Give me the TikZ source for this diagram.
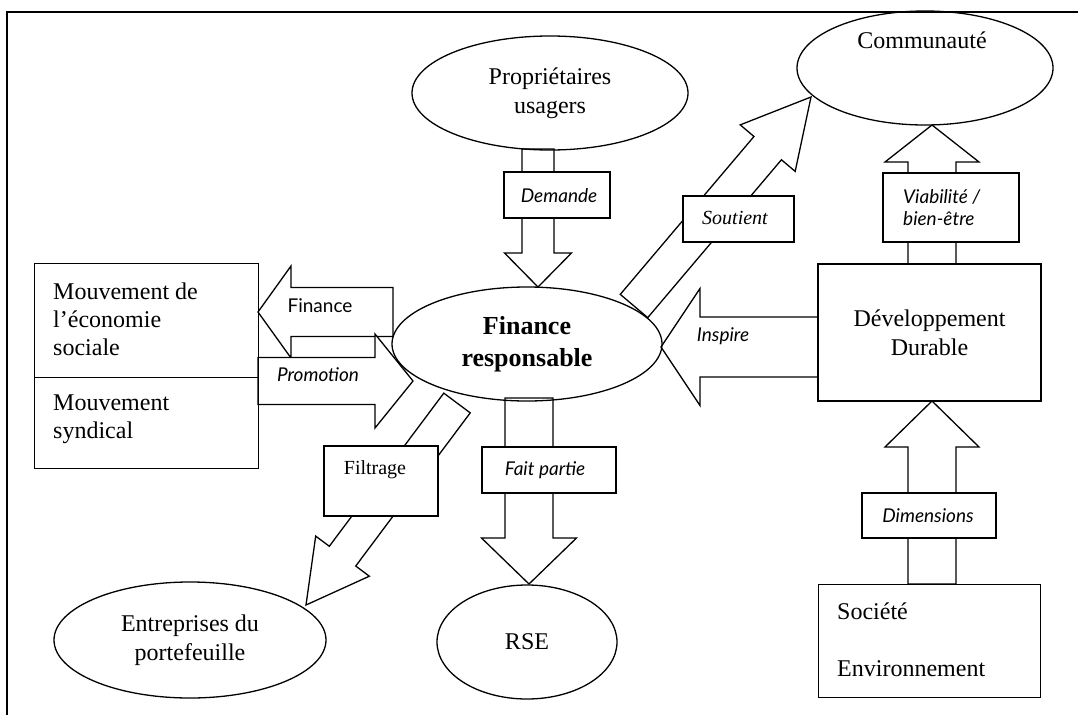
\documentclass[tikz,border=0pt]{standalone}
\usepackage{fontspec}
\setmainfont{Liberation Serif}
\newfontfamily\labsans{Lato}
\usetikzlibrary{calc,shapes.geometric}
\pgfdeclarelayer{back}
\pgfsetlayers{back,main}
% #1 tail, #2 tip, #3 half shaft width, #4 half head width, #5 head length
\newcommand\fatarrow[5]{%
  \coordinate (fh) at ($(#2)!#5!(#1)$);
  \draw[fat] ($(#1)!#3!90:(#2)$) -- ($(fh)!#3!90:(#2)$) -- ($(fh)!#4!90:(#2)$) -- (#2)
     -- ($(fh)!#4!-90:(#2)$) -- ($(fh)!#3!-90:(#2)$) -- ($(#1)!#3!-90:(#2)$) -- cycle;}
\begin{document}
\begin{tikzpicture}[x=1pt,y=-1pt,
  lw/.style={line width=1.3pt},
  frame/.style={lw},
  fat/.style={lw,draw,fill=white,line join=miter},
  ell/.style={lw,draw,ellipse,inner sep=0pt,align=center,font=\fontsize{24}{29}\selectfont},
  bigbox/.style={lw,draw,rectangle,inner sep=0pt},
  txt/.style={inner sep=0pt,align=left,font=\fontsize{24}{28}\selectfont},
  labbox/.style={lw,draw,fill=white,rectangle,inner sep=0pt},
  labit/.style={inner sep=0pt,font=\labsans\itshape\fontsize{19}{22}\selectfont,align=left},
  labup/.style={inner sep=0pt,font=\labsans\fontsize{19}{22}\selectfont},
  labser/.style={inner sep=0pt,font=\fontsize{20}{22}\selectfont}]
\useasboundingbox (0,0) rectangle (1078,715);
\draw[frame] (7,715) -- (7,12) -- (1078,12);

% main nodes
\node[ell,minimum width=276,minimum height=114] (prop) at (550,93) {Propriétaires\\usagers};
\node[ell,minimum width=256,minimum height=114] (comm) at (925,68) {};
\node[txt] (commtxt) at (922,40) {Communauté};
\node[ell,minimum width=270,minimum height=114,font=\bfseries\fontsize{26}{32}\selectfont] (fin) at (527,344) {Finance\\responsable};
\node[ell,minimum width=272,minimum height=116] (entr) at (190,640) {Entreprises du\\portefeuille};
\node[ell,minimum width=180,minimum height=114] (rse) at (527,642) {RSE};
\node[bigbox,anchor=north west,minimum width=224,minimum height=114] (mes) at (34,263) {};
\node[bigbox,anchor=north west,minimum width=224,minimum height=91] (msy) at (34,377) {};
\node[txt,anchor=north west] (mestxt) at (53,283) {Mouvement de\\l’économie\\sociale};
\node[txt,anchor=north west] (msytxt) at (53,395) {Mouvement\\syndical};
\node[bigbox,minimum width=223,minimum height=137,align=center,font=\fontsize{24}{29}\selectfont] (dev) at (929.5,332.5) {Développement\\Durable};
\node[bigbox,anchor=north west,minimum width=222,minimum height=113] (soc) at (818,584) {};
\node[txt,anchor=west] (soctxt) at (837,611) {Société};
\node[txt,anchor=west] (envtxt) at (837,669) {Environnement};

% arrow end points
\coordinate (demT) at (538,149);  \coordinate (demH) at (538,287);
\coordinate (fpT)  at (529,398);  \coordinate (fpH)  at (529,584);
\coordinate (viT)  at (932,264);  \coordinate (viH)  at (932,125);
\coordinate (diT)  at (932,584);  \coordinate (diH)  at (932,401);
\coordinate (inT)  at (818,347);  \coordinate (inH)  at (661,347);
\coordinate (fiT)  at (393,312);  \coordinate (fiH)  at (258,312);
\coordinate (prT)  at (258,381);  \coordinate (prH)  at (413,381);
\coordinate (soT)  at (634,306);  \coordinate (soH)  at (811,97);
\coordinate (flT)  at (457,403);  \coordinate (flH)  at (306,605);

\begin{pgfonlayer}{back}
\fatarrow{demT}{demH}{16pt}{33.5pt}{34pt}
\fatarrow{fpT}{fpH}{24pt}{47.5pt}{46pt}
\fatarrow{viT}{viH}{24pt}{47pt}{37pt}
\fatarrow{diT}{diH}{24pt}{47pt}{46pt}
\fatarrow{inT}{inH}{30pt}{58.5pt}{39pt}
\fatarrow{fiT}{fiH}{24.5pt}{46pt}{33pt}
\fatarrow{prT}{prH}{23.5pt}{47pt}{38pt}
\fatarrow{soT}{soH}{18pt}{36pt}{67pt}
\fatarrow{flT}{flH}{16.5pt}{33.5pt}{61pt}
\end{pgfonlayer}

% labels
\node[labbox,minimum width=106,minimum height=46] (demb) at (557,195) {};
\node[labit] at (559,196) {Demande};
\node[labbox,minimum width=134,minimum height=46] (fpb) at (549,470) {};
\node[labit] at (545,470) {Fait partie};
\node[labbox,minimum width=136,minimum height=69] (vib) at (951,207.5) {};
\node[labit,anchor=west] at (903,208) {Viabilité /\\bien-être};
\node[labbox,minimum width=134,minimum height=45] (dib) at (929,515.5) {};
\node[labit] at (928,516) {Dimensions};
\node[labbox,minimum width=111,minimum height=46] (sob) at (738.5,219) {};
\node[labser,font=\itshape\fontsize{20}{22}\selectfont] at (735,218) {Soutient};
\node[labbox,minimum width=114,minimum height=70] (flb) at (381,481) {};
\node[labser] at (375,470) {Filtrage};
\node[labup] at (320,306) {Finance};
\node[labit] at (318,375) {Promotion};
\node[labit] at (723,336) {Inspire};
\end{tikzpicture}
\end{document}
